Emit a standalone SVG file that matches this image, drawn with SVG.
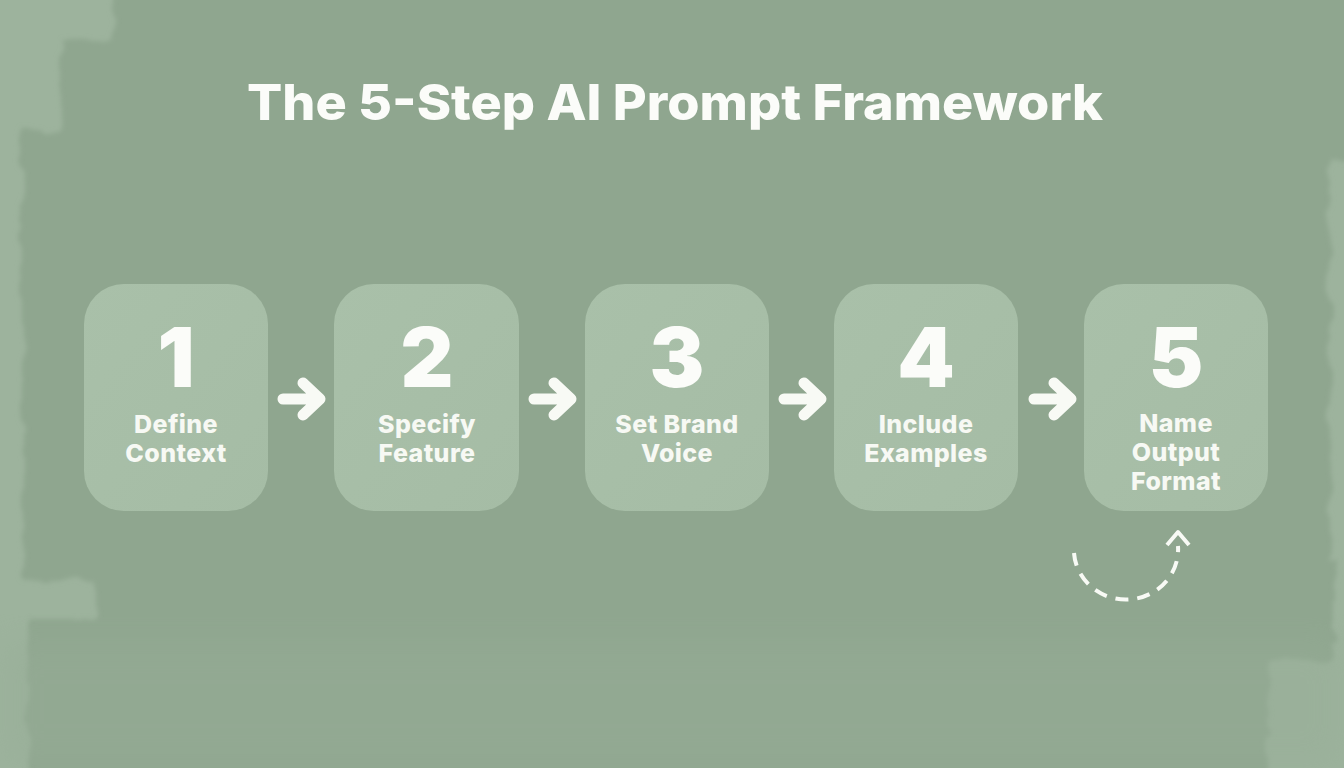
<svg xmlns="http://www.w3.org/2000/svg" width="1344" height="768" viewBox="0 0 1344 768">
  <defs>
    <filter id="rough" x="-10%" y="-10%" width="120%" height="120%">
      <feTurbulence type="fractalNoise" baseFrequency="0.03" numOctaves="3" seed="7" result="n"/>
      <feDisplacementMap in="SourceGraphic" in2="n" scale="16" xChannelSelector="R" yChannelSelector="G"/>
      <feGaussianBlur stdDeviation="2.5"/>
    </filter>
    <filter id="soft" x="-20%" y="-20%" width="140%" height="140%">
      <feGaussianBlur stdDeviation="18"/>
    </filter>
    <linearGradient id="boxg" x1="0" y1="0" x2="1" y2="1">
      <stop offset="0" stop-color="#a9c0a9"/>
      <stop offset="1" stop-color="#a5bca5"/>
    </linearGradient>
    <style>
      .box { fill: url(#boxg); }
      .num { font-family: Inter, "Liberation Sans", sans-serif; font-weight: 900; font-size: 82px; fill: #fbfcf9; text-anchor: middle; }
      .lbl { font-family: Inter, "Liberation Sans", sans-serif; font-weight: 800; font-size: 25px; letter-spacing: 0.4px; fill: #f7f9f4; text-anchor: middle; }
      .title { font-family: Inter, "Liberation Sans", sans-serif; font-weight: 800; font-size: 50px; fill: #fbfcf9; text-anchor: middle; }
      .arrow { fill: none; stroke: #f8faf5; stroke-width: 11; stroke-linecap: round; stroke-linejoin: round; }
      .dash { fill: none; stroke: #f8faf5; stroke-width: 4; stroke-linecap: butt; }
    </style>
  </defs>

  <g id="background">
    <rect x="0" y="0" width="1344" height="768" fill="#9db39d"/>
    <g filter="url(#rough)" fill="#8fa68f">
      <rect x="115" y="-20" width="1260" height="170"/>
      <rect x="60" y="40" width="1290" height="120"/>
      <rect x="22" y="130" width="1280" height="450"/>
      <rect x="300" y="100" width="1030" height="560"/>
      <rect x="95" y="560" width="1240" height="80"/>
      <rect x="28" y="620" width="1240" height="170"/>
    </g>
    <rect x="0" y="640" width="1344" height="128" fill="#97ad97" opacity="0.45" filter="url(#soft)"/>
  </g>

  <text class="title" x="675" y="120" textLength="856" lengthAdjust="spacingAndGlyphs">The 5-Step AI Prompt Framework</text>

  <g id="node1">
    <rect class="box" x="84" y="284" width="184" height="227" rx="40"/>
    <text class="num" x="176" y="387">1</text>
    <text class="lbl" x="176" y="433">Define</text>
    <text class="lbl" x="176" y="462">Context</text>
  </g>
  <g id="node2">
    <rect class="box" x="334" y="284" width="185" height="227" rx="40"/>
    <text class="num" x="427" y="387">2</text>
    <text class="lbl" x="427" y="433">Specify</text>
    <text class="lbl" x="427" y="462">Feature</text>
  </g>
  <g id="node3">
    <rect class="box" x="585" y="284" width="184" height="227" rx="40"/>
    <text class="num" x="677" y="387">3</text>
    <text class="lbl" x="677" y="433">Set Brand</text>
    <text class="lbl" x="677" y="462">Voice</text>
  </g>
  <g id="node4">
    <rect class="box" x="834" y="284" width="184" height="227" rx="40"/>
    <text class="num" x="926" y="387">4</text>
    <text class="lbl" x="926" y="433">Include</text>
    <text class="lbl" x="926" y="462">Examples</text>
  </g>
  <g id="node5">
    <rect class="box" x="1084" y="284" width="184" height="227" rx="40"/>
    <text class="num" x="1176" y="387">5</text>
    <text class="lbl" x="1176" y="432">Name</text>
    <text class="lbl" x="1176" y="461">Output</text>
    <text class="lbl" x="1176" y="490">Format</text>
  </g>

  <g id="connectors">
    <path class="arrow" d="M283,399 H319 M303,383 L320,399 L303,415"/>
    <path class="arrow" d="M534,399 H570 M554,383 L571,399 L554,415"/>
    <path class="arrow" d="M784,399 H820 M804,383 L821,399 L804,415"/>
    <path class="arrow" d="M1034,399 H1070 M1054,383 L1071,399 L1054,415"/>
    <path class="dash" d="M1074,553 A52,50 0 0 0 1178,546" stroke-dasharray="13 9"/>
    <path class="dash" d="M1167,545 L1178,532 L1189,545" stroke-linecap="round" stroke-linejoin="round"/>
  </g>
</svg>
